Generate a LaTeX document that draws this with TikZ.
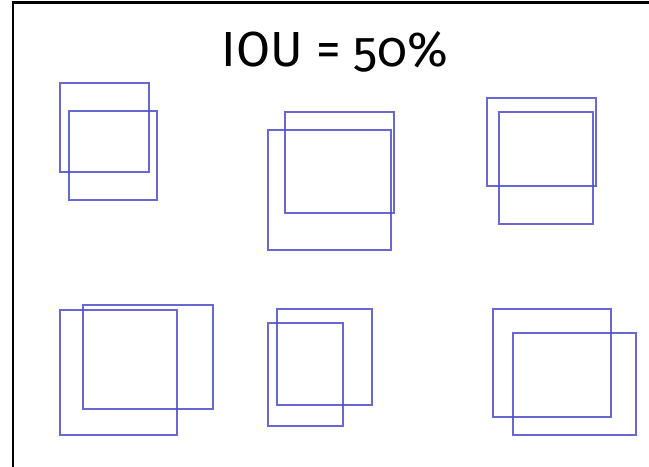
\documentclass[tikz,border=0pt]{standalone}
\usepackage{fontspec}
\setmainfont{Fira Sans}[Numbers=OldStyle]
\definecolor{boxblue}{RGB}{78,78,205}
\begin{document}
\begin{tikzpicture}[x=0.75pt,y=-0.75pt,
  bbox/.style={draw=boxblue,line width=2.2pt,draw opacity=0.85},
  frame/.style={draw=black,line width=1.7pt}]
\useasboundingbox (0,0) rectangle (649,467);
\fill[white] (0,0) rectangle (649,467);
\draw[frame] (13,467) -- (13,2.5) -- (649,2.5);
\node[anchor=base,font=\fontsize{37}{40}\selectfont,inner sep=0pt] (title) at (335,67) {IOU = 50\%};
% group 1
\draw[bbox] (60,83) rectangle (149,172);
\draw[bbox] (69,111) rectangle (157,200);
% group 2
\draw[bbox] (285,112) rectangle (394,213);
\draw[bbox] (268,130) rectangle (391,250);
% group 3
\draw[bbox] (487,98) rectangle (596,186);
\draw[bbox] (499,112) rectangle (593,224);
% group 4
\draw[bbox] (60,310) rectangle (177,435);
\draw[bbox] (83,305) rectangle (213,409);
% group 5
\draw[bbox] (277,309) rectangle (372,405);
\draw[bbox] (268,323) rectangle (343,426);
% group 6
\draw[bbox] (493,309) rectangle (611,417);
\draw[bbox] (513,333) rectangle (636,435);
\end{tikzpicture}
\end{document}
